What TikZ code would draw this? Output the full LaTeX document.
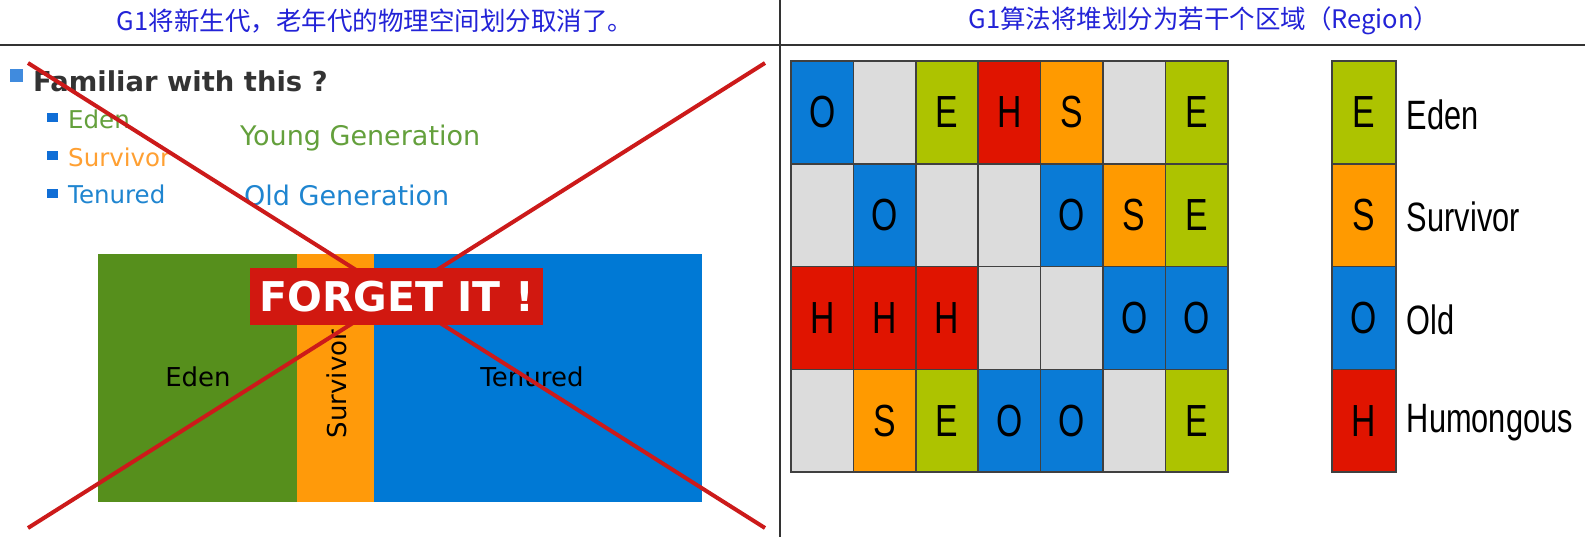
\documentclass[tikz,border=0pt]{standalone}
\usepackage{fontspec}
\setmainfont{DejaVu Sans}
\newfontfamily\cjkfont{Noto Sans CJK SC}
\newfontfamily\narrowfont{Liberation Sans}[FakeStretch=0.75]
\definecolor{headblue}{RGB}{35,35,215}
\definecolor{edengreen}{RGB}{86,143,28}
\definecolor{survorange}{RGB}{255,154,10}
\definecolor{tenblue}{RGB}{0,121,213}
\definecolor{txtgreen}{RGB}{100,160,60}
\definecolor{txtorange}{RGB}{255,160,50}
\definecolor{txtblue}{RGB}{31,133,208}
\definecolor{bulletblue}{RGB}{16,110,214}
\definecolor{crossred}{RGB}{204,26,26}
\definecolor{forgetred}{RGB}{209,24,16}
\definecolor{oldc}{RGB}{10,123,214}
\definecolor{edenc}{RGB}{173,195,0}
\definecolor{survc}{RGB}{255,154,0}
\definecolor{humc}{RGB}{224,20,0}
\definecolor{emptyc}{RGB}{220,220,220}
\tikzset{
  header/.style={text=headblue, font=\cjkfont\fontsize{25.5}{25.5}\selectfont, inner sep=0pt},
  item/.style={anchor=west, inner sep=0pt, font=\fontsize{24.5}{24.5}\selectfont},
  gen/.style={anchor=west, inner sep=0pt, font=\fontsize{27}{27}\selectfont},
  arealabel/.style={inner sep=0pt, font=\fontsize{26}{26}\selectfont},
  cell/.style={draw=black!75, line width=1.5pt, minimum width=62.4pt, minimum height=102.8pt,
    inner sep=0pt, font=\narrowfont\fontsize{45}{45}\selectfont},
  legendtext/.style={anchor=west, inner sep=0pt, font=\narrowfont\fontsize{41}{41}\selectfont}
}
\begin{document}
\begin{tikzpicture}[x=1pt,y=-1pt]
  \useasboundingbox[fill=white] (0,0) rectangle (1585,537);
  % table rules
  \draw[black!80, line width=1.8pt] (0,45) -- (1585,45);
  \draw[black!80, line width=1.5pt] (780,0) -- (780,537);
  % headers
  \node[header] (lefthead) at (375,21) {G1将新生代，老年代的物理空间划分取消了。};
  \node[header] (righthead) at (1204,21) {G1算法将堆划分为若干个区域（Region）};
  % old bullet list
  \fill[bulletblue!80] (10,69) rectangle (23,82);
  \node[anchor=west, inner sep=0pt, text=black!80, font=\bfseries\fontsize{27.4}{27.4}\selectfont] (familiar) at (33,81) {Familiar with this ?};
  \foreach \y in {118,156,194} { \fill[bulletblue] (47,\y-4.5) rectangle (58,\y+4.5); }
  \node[item, text=txtgreen] (itemeden) at (68,119) {Eden};
  \node[item, text=txtorange] (itemsurv) at (68,157) {Survivor};
  \node[item, text=txtblue] (itemten) at (68,194) {Tenured};
  \node[gen, text=txtgreen] (younggen) at (240,138) {Young Generation};
  \node[gen, text=txtblue] (oldgen) at (244,195) {Old Generation};
  % old heap layout
  \fill[edengreen] (98,254) rectangle (297,502);
  \fill[survorange] (297,254) rectangle (374,502);
  \fill[tenblue] (374,254) rectangle (702,502);
  \node[arealabel] (edenarea) at (198,377) {Eden};
  \node[arealabel, rotate=90] (survarea) at (337,384) {Survivor};
  \node[arealabel] (tenarea) at (532,377) {Tenured};
  % the cross
  \coordinate (xa) at (28,63);
  \coordinate (xb) at (765,528);
  \coordinate (xc) at (765,63);
  \coordinate (xd) at (28,528);
  \draw[crossred, line width=4pt] (xa) -- (xb);
  \draw[crossred, line width=4pt] (xc) -- (xd);
  \node[fill=forgetred, text=white, minimum width=293pt, minimum height=57pt, inner sep=0pt,
    font=\bfseries\fontsize{41}{41}\selectfont] (forget) at (396.5,296.5) {FORGET IT !};
  % region grid
  \foreach \cells [count=\r from 0] in {
    {oldc/O,emptyc/{},edenc/E,humc/H,survc/S,emptyc/{},edenc/E},
    {emptyc/{},oldc/O,emptyc/{},emptyc/{},oldc/O,survc/S,edenc/E},
    {humc/H,humc/H,humc/H,emptyc/{},emptyc/{},oldc/O,oldc/O},
    {emptyc/{},survc/S,edenc/E,oldc/O,oldc/O,emptyc/{},edenc/E}} {
    \foreach \c/\t [count=\k from 0] in \cells {
      \node[cell, fill=\c] (r\r c\k) at ({822.2+62.4*\k},{112.4+102.8*\r}) {\t};
    }
  }
  % legend
  \foreach \c/\t/\name [count=\r from 0] in {edenc/E/Eden, survc/S/Survivor, oldc/O/Old, humc/H/Humongous} {
    \node[cell, minimum width=64pt, fill=\c] (key\r) at (1364,{112.4+102.8*\r}) {\t};
    \node[legendtext] (keytext\r) at ([xshift=10pt, yshift=-2pt]key\r.east) {\name};
  }
\end{tikzpicture}
\end{document}
